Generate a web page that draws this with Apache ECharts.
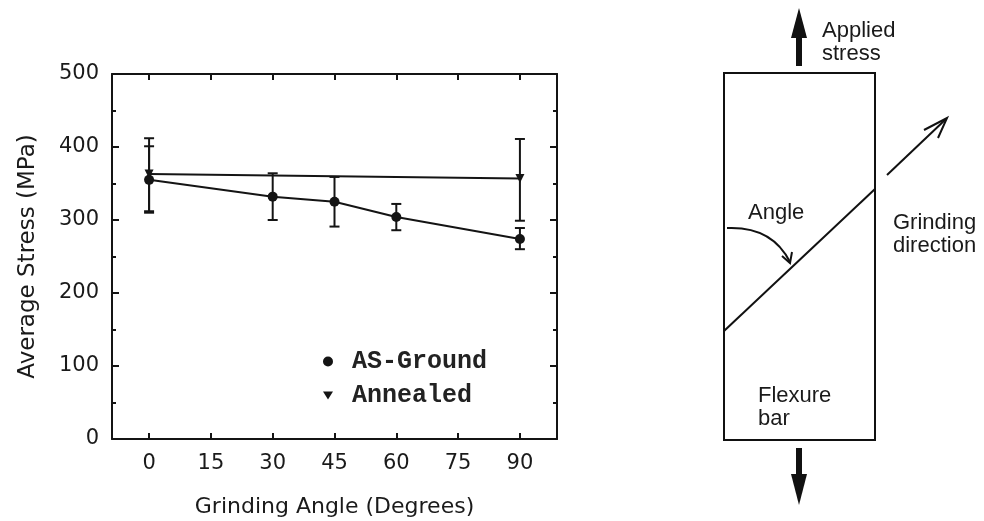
<!DOCTYPE html>
<html>
<head>
<meta charset="utf-8">
<script src="https://cdn.jsdelivr.net/npm/echarts@6/dist/echarts.min.js"></script>
<style>
html,body{margin:0;padding:0;background:#fff;}
#main{width:984px;height:521px;}
</style>
</head>
<body>
<div id="main"></div>
<script>
// ---- data ----
const xTicks = [0, 15, 30, 45, 60, 75, 90];
const yTicks = [0, 100, 200, 300, 400, 500];
const asGroundAngles = [0, 30, 45, 60, 90];
const asGround = [355, 332, 325, 304, 274];
const asGroundLow = [310, 300, 291, 286, 260];
const asGroundHigh = [401, 364, 359, 322, 289];
const annealedAngles = [0, 90];
const annealed = [363, 357];
const annealedLow = [312, 299];
const annealedHigh = [412, 411];

const INK = '#141414';
const axisFont = 'DejaVu Sans';

function errBar(params, api) {
  const x = api.value(0);
  const lo = api.coord([x, api.value(1)]);
  const hi = api.coord([x, api.value(2)]);
  const w = 5;
  const st = {stroke: INK, lineWidth: 2};
  return {type: 'group', children: [
    {type: 'line', shape: {x1: lo[0], y1: lo[1], x2: hi[0], y2: hi[1]}, style: st},
    {type: 'line', shape: {x1: lo[0]-w, y1: lo[1], x2: lo[0]+w, y2: lo[1]}, style: st},
    {type: 'line', shape: {x1: hi[0]-w, y1: hi[1], x2: hi[0]+w, y2: hi[1]}, style: st}
  ]};
}

const chart = echarts.init(document.getElementById('main'), null, {renderer: 'canvas'});

const diagText = {fill: '#1a1a1a', fontFamily: 'Liberation Sans', fontSize: 22, lineHeight: 23};
const S = {stroke: '#111', lineWidth: 2, fill: null};
const axLine = {show: true, onZero: false, lineStyle: {color: INK, width: 2}};

chart.setOption({
  animation: false,
  backgroundColor: '#fff',
  grid: {left: 112, right: 427, top: 74, bottom: 82, outerBoundsMode: 'none', containLabel: false},
  legend: {
    orient: 'vertical', left: 318, top: 344,
    itemWidth: 10, itemHeight: 10, itemGap: 9,
    textStyle: {fontFamily: 'Liberation Mono', fontWeight: 'bold', fontSize: 25, color: '#222', padding: [0,0,0,14], lineHeight: 23},
    data: [
      {name: 'AS-Ground', icon: 'circle'},
      {name: 'Annealed', icon: 'path://M0,0 L10,0 L5,8 Z'}
    ]
  },
  xAxis: [{
    type: 'value', min: -9, max: 99, position: 'bottom',
    name: 'Grinding Angle (Degrees)', nameLocation: 'middle', nameGap: 57,
    nameTextStyle: {fontFamily: axisFont, fontSize: 22, color: '#1a1a1a'},
    axisLine: axLine,
    axisTick: {show: true, inside: true, length: 6, customValues: xTicks, lineStyle: {color: INK, width: 2}},
    axisLabel: {customValues: xTicks, margin: 14, fontFamily: axisFont, fontSize: 21, color: '#1a1a1a'},
    splitLine: {show: false}
  }, {
    type: 'value', min: -9, max: 99, position: 'top',
    axisLine: axLine,
    axisTick: {show: true, inside: true, length: 6, customValues: xTicks, lineStyle: {color: INK, width: 2}},
    axisLabel: {show: false},
    splitLine: {show: false}
  }],
  yAxis: [{
    type: 'value', min: 0, max: 500, interval: 100, position: 'left',
    name: 'Average Stress (MPa)', nameLocation: 'middle', nameGap: 72,
    nameTextStyle: {fontFamily: axisFont, fontSize: 23, color: '#1a1a1a'},
    axisLine: axLine,
    axisTick: {show: true, inside: true, length: 7, lineStyle: {color: INK, width: 2}},
    minorTick: {show: true, splitNumber: 2, length: 4, lineStyle: {color: INK, width: 2}},
    axisLabel: {margin: 13, fontFamily: axisFont, fontSize: 21, color: '#1a1a1a'},
    splitLine: {show: false}
  }, {
    type: 'value', min: 0, max: 500, interval: 100, position: 'right',
    axisLine: axLine,
    axisTick: {show: true, inside: true, length: 7, lineStyle: {color: INK, width: 2}},
    minorTick: {show: true, splitNumber: 2, length: 4, lineStyle: {color: INK, width: 2}},
    axisLabel: {show: false},
    splitLine: {show: false}
  }],
  series: [
    {
      name: 'AS-Ground', type: 'line',
      data: asGroundAngles.map((a, i) => [a, asGround[i]]),
      symbol: 'circle', symbolSize: 10,
      itemStyle: {color: INK}, lineStyle: {color: INK, width: 2}, z: 3
    },
    {
      name: 'Annealed', type: 'line',
      data: annealedAngles.map((a, i) => [a, annealed[i]]),
      symbol: 'triangle', symbolRotate: 180, symbolSize: 9,
      itemStyle: {color: INK}, lineStyle: {color: INK, width: 2}, z: 3
    },
    {
      name: 'asErr', type: 'custom', renderItem: errBar,
      data: asGroundAngles.map((a, i) => [a, asGroundLow[i], asGroundHigh[i]]), z: 2
    },
    {
      name: 'anErr', type: 'custom', renderItem: errBar,
      data: annealedAngles.map((a, i) => [a, annealedLow[i], annealedHigh[i]]), z: 2
    }
  ],
  graphic: [
    // flexure bar
    {type: 'rect', shape: {x: 724, y: 73, width: 151, height: 367}, style: S},
    // grinding line across the bar
    {type: 'line', shape: {x1: 724, y1: 331, x2: 875, y2: 189}, style: S},
    // grinding direction arrow
    {type: 'line', shape: {x1: 887, y1: 175, x2: 946, y2: 119}, style: S},
    {type: 'polyline', shape: {points: [[924, 130], [947, 118], [938, 138]]}, style: S},
    // angle arc with arrowhead
    {type: 'bezierCurve', shape: {x1: 727, y1: 228, cpx1: 772, cpy1: 226, x2: 790, y2: 262}, style: S},
    {type: 'polyline', shape: {points: [[782, 256], [790, 263], [792, 252]]}, style: S},
    // applied stress arrows
    {type: 'rect', shape: {x: 796, y: 36, width: 6, height: 30}, style: {fill: '#111'}},
    {type: 'polygon', shape: {points: [[799, 8], [791, 38], [807, 38]]}, style: {fill: '#111'}},
    {type: 'rect', shape: {x: 796, y: 448, width: 6, height: 28}, style: {fill: '#111'}},
    {type: 'polygon', shape: {points: [[791, 474], [807, 474], [799, 505]]}, style: {fill: '#111'}},
    // labels
    {type: 'text', x: 822, y: 19, style: Object.assign({text: 'Applied\nstress'}, diagText)},
    {type: 'text', x: 748, y: 201, style: Object.assign({text: 'Angle'}, diagText)},
    {type: 'text', x: 893, y: 211, style: Object.assign({text: 'Grinding\ndirection'}, diagText)},
    {type: 'text', x: 758, y: 384, style: Object.assign({text: 'Flexure\nbar'}, diagText)}
  ]
});
</script>
</body>
</html>
